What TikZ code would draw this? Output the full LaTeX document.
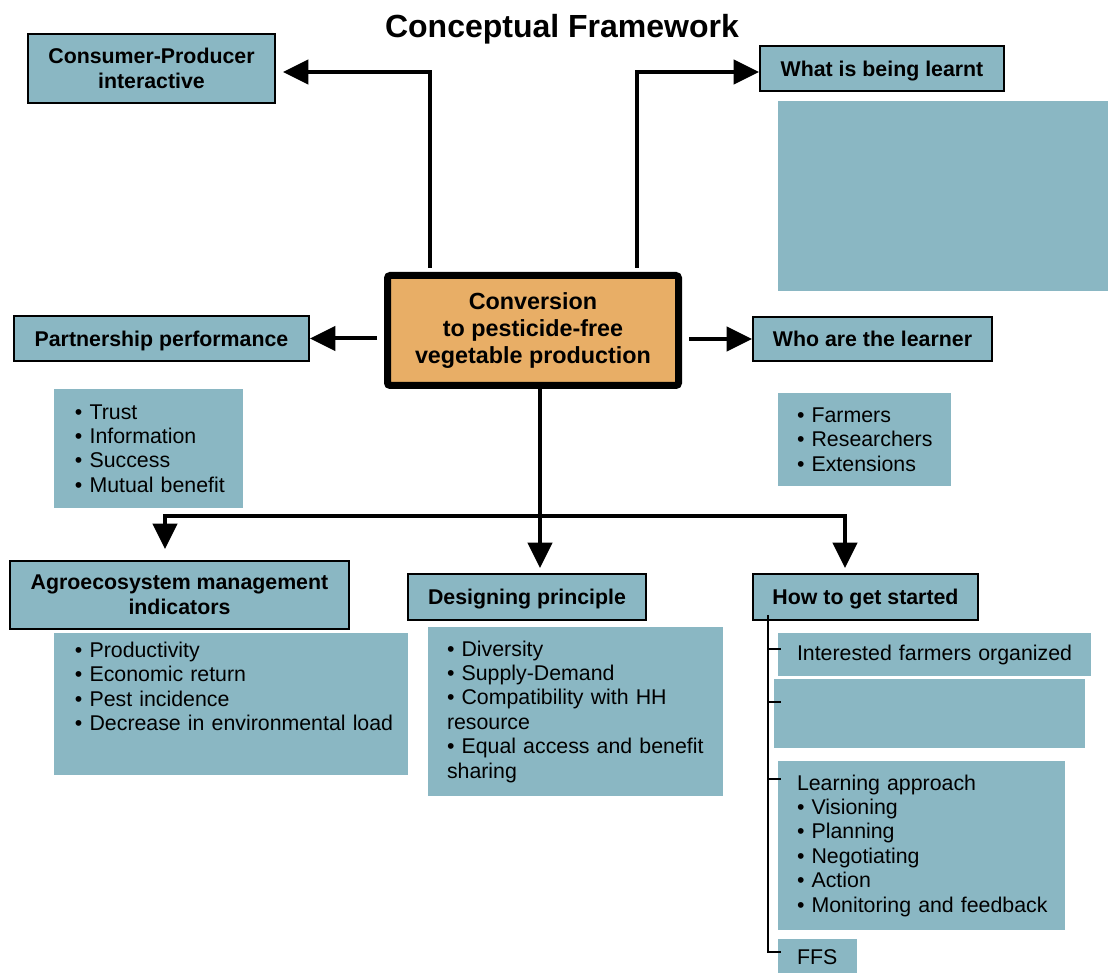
\documentclass[tikz,border=0pt]{standalone}
\usepackage{fontspec}
\setmainfont{Liberation Sans}
\usetikzlibrary{arrows.meta}
\definecolor{boxblue}{HTML}{8AB7C3}
\definecolor{convorange}{HTML}{E8AE66}
% left indent for the text inside the list boxes
\newcommand\lsk[1]{\leftskip=#1\relax}
\begin{document}
\begin{tikzpicture}[x=0.75pt,y=-0.75pt,
  hdr/.style={draw=black, line width=1.5pt, fill=boxblue, inner sep=0pt,
    font=\bfseries\fontsize{16}{18.75}\selectfont, align=center},
  onel/.style={text height=12pt, text depth=0.6pt},
  body/.style={fill=boxblue, inner sep=0pt, align=left,
    font=\fontsize{16}{18.3}\selectfont},
  plain/.style={fill=boxblue, inner sep=0pt},
  arr/.style={line width=3pt, -{Triangle[length=19pt,width=18pt]}},
  tick/.style={line width=1.5pt}]
\useasboundingbox (0,0) rectangle (1108,973);

% title
\node[font=\bfseries\fontsize{24}{28}\selectfont, anchor=base] (title) at (562,38) {Conceptual Framework};

% central box
\node[draw=black, line width=5.25pt, fill=convorange, rounded corners=2pt, inner sep=0pt,
  minimum width=218.25pt, minimum height=82.5pt, align=center,
  font=\bfseries\fontsize{17.5}{20}\selectfont] (conv) at (533,330.5)
  {Conversion\\to pesticide-free\\vegetable production};

% top row
\node[hdr, minimum width=185.25pt, minimum height=51.75pt] (cons) at (151.5,68.5)
  {Consumer-Producer\\interactive};
\node[hdr, onel, minimum width=183pt, minimum height=33.75pt] (what) at (882,68.5)
  {What is being learnt};
\node[plain, minimum width=247.5pt, minimum height=142.5pt] (whatbody) at (943,196) {};

% middle row
\node[hdr, onel, minimum width=221.25pt, minimum height=33.75pt] (part) at (161.5,338.5)
  {Partnership performance};
\node[body, text width=141.75pt, minimum height=89.25pt] (trust) at (148.5,448.5)
  {\lsk{15.75pt}• Trust\\• Information\\• Success\\• Mutual benefit\par};
\node[hdr, onel, minimum width=179.25pt, minimum height=33pt] (who) at (872.5,339)
  {Who are the learner};
\node[body, text width=129.75pt, minimum height=69.75pt] (farm) at (864.5,439.5)
  {\lsk{14.25pt}• Farmers\\• Researchers\\• Extensions\par};

% bottom row
\node[hdr, minimum width=254.25pt, minimum height=51pt] (agro) at (179.5,595)
  {Agroecosystem management\\indicators};
\node[plain, minimum width=265.5pt, minimum height=106.5pt] (prod) at (231,704) {};
\node[body, fill=none, text width=265.5pt, anchor=north west] (prodtxt)
  at ([yshift=-6.75pt]prod.north west)
  {\lsk{15.75pt}• Productivity\\• Economic return\\• Pest incidence\\• Decrease in environmental load\par};

\node[hdr, onel, minimum width=178.5pt, minimum height=34.5pt] (design) at (527,597)
  {Designing principle};
\node[body, text width=221.25pt, minimum height=126.75pt] (div) at (575.5,711.5)
  {\lsk{14.25pt}• Diversity\\• Supply-Demand\\• Compatibility with HH\\resource\\• Equal access and benefit\\sharing\par};

\node[hdr, onel, minimum width=168.75pt, minimum height=34.5pt] (how) at (865.5,597)
  {How to get started};
\node[body, text width=234.75pt, minimum height=32.25pt] (intf) at (934.5,654.5)
  {\lsk{14.25pt}Interested farmers organized\par};
\node[plain, minimum width=233.25pt, minimum height=51.75pt] (blank2) at (929.5,713.5) {};
\node[body, text width=215.25pt, minimum height=126.75pt] (learn) at (921.5,845.5)
  {\lsk{14.25pt}Learning approach\\• Visioning\\• Planning\\• Negotiating\\• Action\\• Monitoring and feedback\par};
\node[body, text width=59.25pt, minimum height=27pt] (ffs) at (817.5,957)
  {\lsk{14.25pt}FFS\par};

% arrows out of the central box
\draw[arr, shorten <=3pt, shorten >=5.25pt] ([xshift=-77.25pt]conv.north) |- ([yshift=-2.625pt]cons.east);
\draw[arr, shorten <=3pt] ([xshift=78pt]conv.north) |- ([yshift=-2.625pt]what.west);
\draw[arr, shorten <=5.25pt] (conv.west |- part.east) -- (part.east);
\draw[arr, shorten <=5.25pt] (conv.east |- who.west) -- (who.west);

\coordinate (split) at (540,516);
\coordinate (dropL) at (165,516);
\coordinate (dropR) at (845,516);
\draw[arr, shorten >=3.75pt] (conv.south -| split) -- (design.north -| split);
\draw[arr, shorten >=8.25pt] (split) -| (agro.north -| dropL);
\draw[arr, shorten >=3.75pt] (split) -| (how.north -| dropR);

% bracket under "How to get started"
\coordinate (bk0) at (768,615);
\coordinate (tk1) at (781,649);
\coordinate (tk2) at (781,702);
\coordinate (tk3) at (781,779);
\coordinate (tk4) at (781,952);
\draw[tick] (bk0) |- (tk4);
\draw[tick] (bk0 |- tk1) -- (tk1);
\draw[tick] (bk0 |- tk2) -- (tk2);
\draw[tick] (bk0 |- tk3) -- (tk3);
\end{tikzpicture}
\end{document}
